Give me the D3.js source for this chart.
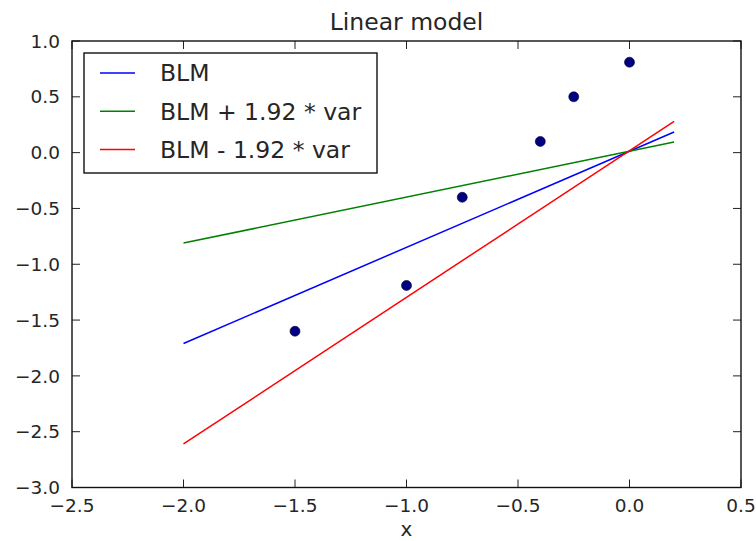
<!DOCTYPE html>
<html>
<head>
<meta charset="utf-8">
<script src="https://cdnjs.cloudflare.com/ajax/libs/d3/7.8.5/d3.min.js"></script>
<style>
  body { margin: 0; background: white; }
  text { font-family: "DejaVu Sans", sans-serif; fill: #262626; }
</style>
</head>
<body>
<div id="container"></div>
<script>
// observations
var pointX = [-1.5, -1.0, -0.75, -0.4, -0.25, 0.0];
var pointY = [-1.6, -1.19, -0.4, 0.1, 0.5, 0.81];

// model lines (start and end)
var lineX = [-2.0, 0.2];
var blmY = [-1.71, 0.185];
var blmPlusY = [-0.81, 0.095];
var blmMinusY = [-2.61, 0.28];

var seriesNames = ["BLM", "BLM + 1.92 * var", "BLM - 1.92 * var"];
var seriesColors = ["#0000ff", "#008000", "#ff0000"];
var seriesValues = [blmY, blmPlusY, blmMinusY];

var xTicks = [-2.5, -2.0, -1.5, -1.0, -0.5, 0.0, 0.5];
var yTicks = [1.0, 0.5, 0.0, -0.5, -1.0, -1.5, -2.0, -2.5, -3.0];

var width = 756, height = 541;
var plotLeft = 72, plotRight = 741, plotTop = 41, plotBottom = 487.5;

var svg = d3.select("#container").append("svg")
    .attr("width", width)
    .attr("height", height);

var x = d3.scaleLinear().domain([-2.5, 0.5]).range([plotLeft, plotRight]);
var y = d3.scaleLinear().domain([-3.0, 1.0]).range([plotBottom, plotTop]);

var fmt = function(d) { return d3.format(".1f")(d).replace("-", "\u2212"); };

// lines
var line = d3.line()
  .x(function(d, i) { return x(lineX[i]); })
  .y(function(d) { return y(d); });

svg.selectAll("path.series").data(seriesValues).enter()
  .append("path")
  .attr("class", "series")
  .attr("d", function(d) { return line(d); })
  .style("fill", "none")
  .style("stroke", function(d, i) { return seriesColors[i]; })
  .style("stroke-width", 1.5);

// points
svg.selectAll("circle.pt").data(pointX).enter()
  .append("circle")
  .attr("class", "pt")
  .attr("cx", function(d) { return x(d); })
  .attr("cy", function(d, i) { return y(pointY[i]); })
  .attr("r", 5)
  .style("fill", "#000080")
  .style("stroke", "#000033")
  .style("stroke-width", 0.6);

// ticks, inward on all four sides
var tickLen = 8;
var ticks = svg.append("g").style("stroke", "#222").style("stroke-width", 1);
xTicks.forEach(function(t) {
  ticks.append("line").attr("x1", x(t)).attr("x2", x(t)).attr("y1", plotBottom).attr("y2", plotBottom - tickLen);
  ticks.append("line").attr("x1", x(t)).attr("x2", x(t)).attr("y1", plotTop).attr("y2", plotTop + tickLen);
});
yTicks.forEach(function(t) {
  ticks.append("line").attr("x1", plotLeft).attr("x2", plotLeft + tickLen).attr("y1", y(t)).attr("y2", y(t));
  ticks.append("line").attr("x1", plotRight).attr("x2", plotRight - tickLen).attr("y1", y(t)).attr("y2", y(t));
});

// tick labels
svg.selectAll("text.xt").data(xTicks).enter()
  .append("text")
  .attr("class", "xt")
  .attr("x", function(d) { return x(d); })
  .attr("y", 511.5)
  .attr("text-anchor", "middle")
  .style("font-size", "18.5px")
  .text(fmt);

svg.selectAll("text.yt").data(yTicks).enter()
  .append("text")
  .attr("class", "yt")
  .attr("x", 60)
  .attr("y", function(d) { return y(d); })
  .attr("dy", "0.36em")
  .attr("text-anchor", "end")
  .style("font-size", "18.5px")
  .text(fmt);

// frame
svg.append("rect")
  .attr("x", plotLeft)
  .attr("y", plotTop)
  .attr("width", plotRight - plotLeft)
  .attr("height", plotBottom - plotTop)
  .style("fill", "none")
  .style("stroke", "#111")
  .style("stroke-width", 1.4);

// title and axis labels
svg.append("text")
  .attr("x", (plotLeft + plotRight) / 2)
  .attr("y", 30)
  .attr("text-anchor", "middle")
  .style("font-size", "23.5px")
  .text("Linear model");

svg.append("text")
  .attr("x", (plotLeft + plotRight) / 2)
  .attr("y", 536)
  .attr("text-anchor", "middle")
  .style("font-size", "20px")
  .text("x");

// y label sits mostly past the left edge, as in the source image
svg.append("text")
  .attr("transform", "translate(-5," + (plotTop + plotBottom) / 2 + ") rotate(-90)")
  .attr("text-anchor", "middle")
  .style("font-size", "20px")
  .text("y");

// legend
var legend = svg.append("g")
    .attr("transform", "translate(84,53)");

legend.append("rect")
  .attr("x", 0)
  .attr("y", 0)
  .attr("width", 293)
  .attr("height", 120)
  .style("fill", "white")
  .style("stroke", "#111")
  .style("stroke-width", 1.4);

legend.selectAll("line").data(seriesNames).enter()
  .append("line")
  .attr("x1", 16)
  .attr("x2", 51)
  .attr("y1", function(d, i) { return 20 + i * 38.3; })
  .attr("y2", function(d, i) { return 20 + i * 38.3; })
  .style("stroke", function(d, i) { return seriesColors[i]; })
  .style("stroke-width", 1.5);

legend.selectAll("text").data(seriesNames).enter()
  .append("text")
  .attr("x", 76)
  .attr("y", function(d, i) { return 20 + i * 38.3; })
  .attr("dy", "0.36em")
  .style("font-size", "23.5px")
  .text(function(d) { return d; });
</script>
</body>
</html>
